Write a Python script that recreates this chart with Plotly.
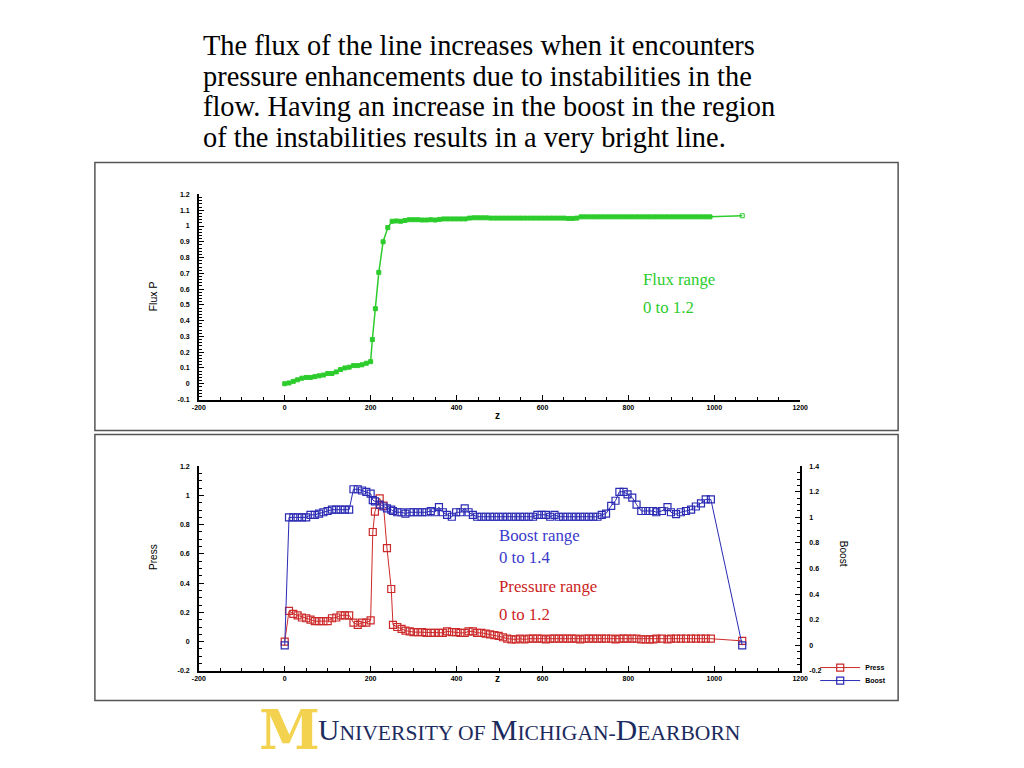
import plotly.graph_objects as go

# ---------------- data ----------------
flux_z = [0, 10, 20, 30, 40, 50, 60, 70, 80, 90, 100, 110, 120, 130, 140, 150, 160, 170, 180, 190, 200,
          204, 211, 219, 229, 240, 250, 260, 270, 280, 290, 300, 310, 320, 330, 340, 350, 360, 370, 380,
          390, 400, 410, 420, 430, 440, 450, 460, 470, 480, 490, 500, 510, 520, 530, 540, 550, 560, 570,
          580, 590, 600, 610, 620, 630, 640, 650, 660, 670, 680, 690, 700, 710, 720, 730, 740, 750, 760,
          770, 780, 790, 800, 810, 820, 830, 840, 850, 860, 870, 880, 890, 900, 910, 920, 930, 940, 950,
          960, 970, 980, 990, 1065]
flux_p = [0.0, 0.005, 0.015, 0.025, 0.035, 0.04, 0.04, 0.045, 0.05, 0.055, 0.065, 0.065, 0.075, 0.09, 0.1,
          0.105, 0.115, 0.115, 0.12, 0.13, 0.14,
          0.28, 0.476, 0.706, 0.90, 0.99, 1.03, 1.032, 1.03, 1.035, 1.04, 1.04, 1.04, 1.038, 1.038, 1.04,
          1.038, 1.042, 1.045, 1.045, 1.045, 1.045, 1.045, 1.045, 1.05, 1.052, 1.052, 1.052, 1.052, 1.05,
          1.05, 1.05, 1.05, 1.05, 1.05, 1.05, 1.05, 1.05, 1.05, 1.05, 1.05, 1.05, 1.05, 1.05, 1.05, 1.05,
          1.05, 1.048, 1.048, 1.05, 1.058, 1.058, 1.058, 1.058, 1.058, 1.058, 1.058, 1.058, 1.058, 1.058,
          1.058, 1.058, 1.058, 1.058, 1.058, 1.058, 1.058, 1.058, 1.058, 1.058, 1.058, 1.058, 1.058, 1.058,
          1.058, 1.058, 1.058, 1.058, 1.058, 1.058, 1.058, 1.065]

z_b = [0, 10, 20, 30, 40, 50, 60, 70, 80, 90, 100, 110, 120, 130, 140, 150, 160, 170, 180, 190, 200,
       205, 210, 221, 230, 238, 248, 252, 262, 272, 281, 291, 300, 310, 320, 330, 340, 349, 359, 368,
       378, 389, 399, 409, 419, 428, 438, 448, 458, 468, 478, 488, 498, 508, 518, 528, 538, 548, 558,
       568, 578, 588, 598, 608, 618, 628, 638, 648, 658, 668, 678, 688, 698, 708, 718, 728, 738, 748,
       760, 770, 779, 789, 798, 809, 819, 830, 840, 850, 858, 865, 878, 891, 899, 911, 922, 934, 946,
       957, 969, 980, 992, 1065]
press = [0.0, 0.21, 0.19, 0.18, 0.165, 0.16, 0.15, 0.14, 0.14, 0.14, 0.14, 0.16, 0.165, 0.18, 0.18, 0.18,
         0.13, 0.115, 0.13, 0.13, 0.145,
         0.75, 0.89, 0.98, 0.93, 0.64, 0.36, 0.115, 0.10, 0.087, 0.075, 0.07, 0.065, 0.065, 0.065, 0.06,
         0.06, 0.06, 0.06, 0.06, 0.07, 0.065, 0.065, 0.06, 0.06, 0.07, 0.07, 0.06, 0.06, 0.055, 0.05,
         0.045, 0.04, 0.03, 0.02, 0.015, 0.015, 0.02, 0.015, 0.02, 0.02, 0.02, 0.02, 0.015, 0.02, 0.02,
         0.02, 0.02, 0.02, 0.02, 0.02, 0.015, 0.02, 0.02, 0.02, 0.02, 0.02, 0.02, 0.02, 0.015, 0.02, 0.02,
         0.02, 0.02, 0.02, 0.015, 0.015, 0.015, 0.015, 0.02, 0.02, 0.015, 0.02, 0.02, 0.02, 0.02, 0.02,
         0.02, 0.02, 0.02, 0.02, 0.005]
boost = [0.0, 1.0, 1.0, 1.0, 1.0, 1.0, 1.02, 1.02, 1.03, 1.04, 1.05, 1.06, 1.06, 1.06, 1.06, 1.06,
         1.22, 1.22, 1.21, 1.20, 1.185,
         1.135, 1.125, 1.10, 1.085, 1.07, 1.06, 1.05, 1.04, 1.04, 1.03, 1.04, 1.04, 1.04, 1.04, 1.04,
         1.05, 1.04, 1.08, 1.04, 1.02, 1.005, 1.04, 1.04, 1.07, 1.04, 1.02, 1.005, 1.005, 1.005, 1.005,
         1.005, 1.005, 1.005, 1.005, 1.005, 1.005, 1.005, 1.005, 1.005, 1.005, 1.02, 1.02, 1.02, 1.005,
         1.02, 1.005, 1.005, 1.005, 1.005, 1.005, 1.005, 1.005, 1.005, 1.005, 1.005, 1.02, 1.03,
         1.09, 1.13, 1.20, 1.20, 1.18, 1.155, 1.10, 1.05, 1.05, 1.05, 1.05, 1.04, 1.05, 1.08, 1.04,
         1.025, 1.04, 1.05, 1.06, 1.085, 1.11, 1.14, 1.14, 0.0]

x_ticks = [-200, 0, 200, 400, 600, 800, 1000, 1200]
x_ticktext = ["-200", "0", "200", "400", "600", "800", "1000", "1200"]

title_lines = [
    "The flux of the line increases when it encounters",
    "pressure enhancements due to instabilities in the",
    "flow. Having an increase in the boost in the region",
    "of the instabilities results in a very bright line.",
]

# ---------------- styling ----------------
W, H = 1024, 768
GREEN = "#2ccc2c"
BLUE = "#2a2ab4"
RED = "#cc2a2a"
TICKFONT = dict(family="Liberation Sans", size=7, color="black", weight="bold")

# the photographed page comes out slightly shrunk about its centre; compensate
SX, SY = 1 / 0.9863, 1 / 0.9907
CX, CY = 512, 384


def px(x):
    return (CX + (x - CX) * SX) / W


def py(y):
    return 1 - (CY + (y - CY) * SY) / H


fig = go.Figure()

flux_symbols = ["square"] * (len(flux_z) - 1) + ["square-open"]
fig.add_trace(go.Scatter(
    x=flux_z, y=flux_p, mode="lines+markers", xaxis="x", yaxis="y",
    line=dict(color=GREEN, width=1.5),
    marker=dict(symbol=flux_symbols, size=4, color=GREEN, line=dict(color=GREEN, width=1)),
    showlegend=False,
))

fig.add_trace(go.Scatter(
    x=z_b, y=press, mode="lines+markers", xaxis="x2", yaxis="y2", name="Press", legend="legend",
    line=dict(color=RED, width=1),
    marker=dict(symbol="square-open", size=7, color=RED, line=dict(color=RED, width=1.2)),
))
fig.add_trace(go.Scatter(
    x=z_b, y=boost, mode="lines+markers", xaxis="x2", yaxis="y3", name="Boost", legend="legend2",
    line=dict(color=BLUE, width=1),
    marker=dict(symbol="square-open", size=7, color=BLUE, line=dict(color=BLUE, width=1.2)),
))

xdom = [px(199), px(801)]
top_dom = [py(399), py(194)]
bot_dom = [py(670.3), py(465.7)]

xcommon = dict(
    range=[-200, 1200], tickvals=x_ticks, ticktext=x_ticktext, showline=True, linecolor="black",
    linewidth=1.5, ticks="inside", ticklen=5, tickcolor="black", showgrid=False, zeroline=False,
    tickfont=TICKFONT, minor=dict(dtick=50, ticks="inside", ticklen=3, tickcolor="black"),
    domain=xdom, fixedrange=True,
)
ycommon = dict(
    showline=True, linecolor="black", linewidth=1.5, ticks="inside", ticklen=5, tickcolor="black",
    showgrid=False, zeroline=False, tickfont=TICKFONT, ticklabelstandoff=6, fixedrange=True,
)
legfont = dict(family="Liberation Sans", size=7, color="black", weight="bold")

fig.update_layout(
    width=W, height=H,
    margin=dict(l=0, r=0, t=0, b=0),
    paper_bgcolor="white", plot_bgcolor="rgba(0,0,0,0)",
    xaxis=dict(**xcommon, anchor="y"),
    yaxis=dict(**ycommon, domain=top_dom, range=[-0.1, 1.2], anchor="x",
               tickvals=[-0.1, 0, 0.1, 0.2, 0.3, 0.4, 0.5, 0.6, 0.7, 0.8, 0.9, 1, 1.1, 1.2],
               ticktext=["-0.1", "0", "0.1", "0.2", "0.3", "0.4", "0.5", "0.6", "0.7", "0.8", "0.9", "1", "1.1", "1.2"],
               minor=dict(dtick=0.02, ticks="inside", ticklen=3, tickcolor="black")),
    xaxis2=dict(**xcommon, anchor="y2"),
    yaxis2=dict(**ycommon, domain=bot_dom, range=[-0.2, 1.2], anchor="x2",
                tickvals=[-0.2, 0, 0.2, 0.4, 0.6, 0.8, 1, 1.2],
                ticktext=["-0.2", "0", "0.2", "0.4", "0.6", "0.8", "1", "1.2"],
                minor=dict(dtick=0.05, ticks="inside", ticklen=3, tickcolor="black")),
    yaxis3=dict(**ycommon, domain=bot_dom, range=[-0.2, 1.4], anchor="x2", overlaying="y2", side="right",
                tickvals=[-0.2, 0, 0.2, 0.4, 0.6, 0.8, 1, 1.2, 1.4],
                ticktext=["-0.2", "0", "0.2", "0.4", "0.6", "0.8", "1", "1.2", "1.4"],
                minor=dict(dtick=0.05, ticks="inside", ticklen=3, tickcolor="black")),
    legend=dict(x=px(816), y=py(667), xanchor="left", yanchor="middle", bgcolor="rgba(0,0,0,0)",
                font=legfont, itemwidth=40),
    legend2=dict(x=px(816), y=py(680), xanchor="left", yanchor="middle", bgcolor="rgba(0,0,0,0)",
                 font=legfont, itemwidth=40),
    showlegend=True,
)

# panel frames
for (y0, y1) in [(162, 430), (434, 700)]:
    fig.add_shape(type="rect", xref="paper", yref="paper", x0=px(95), x1=px(899), y0=py(y1), y1=py(y0),
                  line=dict(color="#555555", width=1.5), fillcolor="rgba(0,0,0,0)", layer="below")

ann = []
# title text
for i, line in enumerate(title_lines):
    ann.append(dict(text=line, x=px(201), y=py(45 + i * 30.6), xref="paper", yref="paper",
                    xanchor="left", yanchor="middle", showarrow=False,
                    font=dict(family="Liberation Serif", size=28.4, color="black")))

# axis titles
ann.append(dict(text="Flux P", x=px(146), y=py(296), xref="paper", yref="paper", textangle=-90,
                showarrow=False, font=dict(family="Liberation Sans", size=10.5, color="black")))
ann.append(dict(text="z", x=px(498), y=py(415), xref="paper", yref="paper", showarrow=False,
                font=dict(family="Liberation Sans", size=10, color="black", weight="bold")))
ann.append(dict(text="Press", x=px(146), y=py(571), xref="paper", yref="paper", textangle=-90,
                showarrow=False, font=dict(family="Liberation Sans", size=10, color="black")))
ann.append(dict(text="Boost", x=px(852), y=py(568), xref="paper", yref="paper", textangle=90,
                showarrow=False, font=dict(family="Liberation Sans", size=10, color="black")))
ann.append(dict(text="z", x=px(498), y=py(685), xref="paper", yref="paper", showarrow=False,
                font=dict(family="Liberation Sans", size=10, color="black", weight="bold")))

# range notes
notes = [("Flux range", 642, 279, GREEN), ("0 to 1.2", 642, 307, GREEN),
         ("Boost range", 497, 535, "#3a3acc"), ("0 to 1.4", 497, 557, "#3a3acc"),
         ("Pressure range", 497, 586, "#cc2222"), ("0 to 1.2", 497, 614, "#cc2222")]
for t, x, y, c in notes:
    ann.append(dict(text=t, x=px(x), y=py(y), xref="paper", yref="paper", xanchor="left",
                    yanchor="middle", showarrow=False,
                    font=dict(family="Liberation Serif", size=16.8, color=c)))

# logo
ann.append(dict(text="M", x=px(290), y=py(729), xref="paper", yref="paper", xanchor="center",
                yanchor="middle", showarrow=False,
                font=dict(family="DejaVu Serif", size=55, color="#f2d24e", weight="bold")))
logo = ("<span style='font-size:29.7px'>U</span>NIVERSITY OF <span style='font-size:29.7px'>M</span>"
        "ICHIGAN-<span style='font-size:29.7px'>D</span>EARBORN")
ann.append(dict(text=logo, x=px(316), y=py(729), xref="paper", yref="paper", xanchor="left",
                yanchor="middle", showarrow=False,
                font=dict(family="Liberation Serif", size=21.6, color="#1c2b5e")))

fig.update_layout(annotations=ann)

fig.write_html("out.html", config=dict(displayModeBar=False),
               post_script="document.body.style.margin='0';document.body.style.overflow='hidden';")
